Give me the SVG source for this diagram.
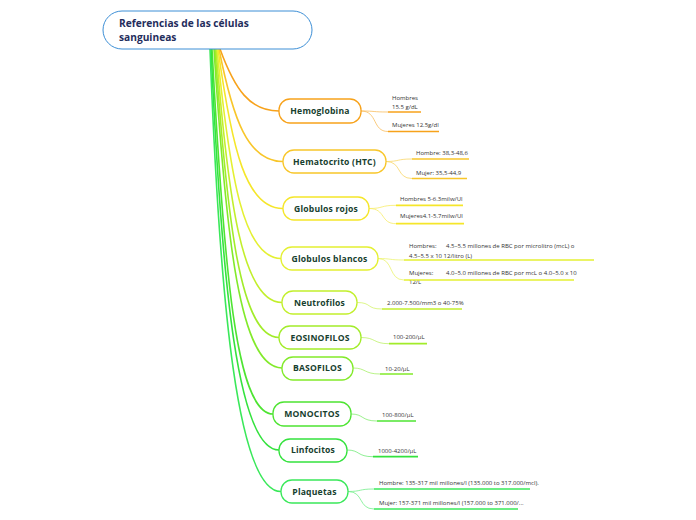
<svg xmlns="http://www.w3.org/2000/svg" width="696" height="520" viewBox="0 0 696 520">
<style>
.root{fill:#fff;stroke:#3d8fd6;stroke-width:1}
.rt{font-family:"Open Sans",sans-serif;font-weight:bold;font-size:10.2px;fill:#1f2d5c}
.nb{fill:#fff;stroke-width:1.3}
.nt{font-family:"Open Sans",sans-serif;font-weight:bold;font-size:8.6px;fill:#17402e;text-anchor:middle;letter-spacing:0.2px}
.st{font-family:"Open Sans",sans-serif;font-size:6px;fill:#333}
.c{fill:none;stroke-width:1.6;stroke-linecap:round}
.s{fill:none;stroke-width:0.8;opacity:0.7}
.u{stroke-width:1.7}
</style>
<g id="connectors">
<path class="c" stroke="#f7a21b" d="M220,49 C235,90 250,111 279,111"/>
<path class="c" stroke="#f8c62a" d="M219,49 C233,120 248,161.5 283,161.5"/>
<path class="c" stroke="#f5e62a" d="M218,49 C232,150 246,208.5 283,208.5"/>
<path class="c" stroke="#e4f032" d="M217,49 C230,180 244,258.5 281,258.5"/>
<path class="c" stroke="#c2ef2c" d="M216,49 C228,200 242,302.5 282,302.5"/>
<path class="c" stroke="#a2ec2a" d="M215,49 C227,220 240,337.5 279,337.5"/>
<path class="c" stroke="#82ea2a" d="M214,49 C226,240 240,368 282,368"/>
<path class="c" stroke="#4ee432" d="M212,49 C224,270 236,414 273,414"/>
<path class="c" stroke="#34e23e" d="M211,49 C222,290 238,450 279,450"/>
<path class="c" stroke="#3ae85a" d="M210,49 C220,310 238,491.5 281,491.5"/>
<g class="s" stroke="#f7a21b">
<path d="M361,111 C376,111 372,112 388,112"/>
<path d="M361,111 C378,111 372,131.5 388,131.5"/>
</g>
<g class="s" stroke="#f8c62a">
<path d="M386,161.5 C400,161.5 396,159 412,159"/>
<path d="M386,161.5 C402,161.5 396,178.5 412,178.5"/>
</g>
<g class="s" stroke="#f5e62a">
<path d="M369,208.5 C384,208.5 380,205.3 396,205.3"/>
<path d="M369,208.5 C386,208.5 380,223.7 396,223.7"/>
</g>
<g class="s" stroke="#e4f032">
<path d="M378,258.5 C392,258.5 388,260 404,260"/>
<path d="M378,258.5 C394,258.5 388,280 404,280"/>
</g>
<path class="s" stroke="#c2ef2c" d="M357,302.5 C372,302.5 366,309 382,309"/>
<path class="s" stroke="#a2ec2a" d="M361,337.5 C376,337.5 373,343.7 389,343.7"/>
<path class="s" stroke="#82ea2a" d="M353,368 C366,368 364,374 380,374"/>
<path class="s" stroke="#4ee432" d="M351,414 C364,414 361,421 377,421"/>
<path class="s" stroke="#34e23e" d="M347,450 C360,450 357,456.7 373,456.7"/>
<g class="s" stroke="#3ae85a">
<path d="M348,491.5 C362,491.5 358,489 374,489"/>
<path d="M348,491.5 C364,491.5 358,509 374,509"/>
</g>
</g>
<g id="root">
<rect class="root" x="103" y="11" width="209" height="38" rx="19"/>
<text class="rt" x="119" y="27">Referencias de las células</text>
<text class="rt" x="119" y="41">sanguineas</text>
</g>
<g id="hemoglobina">
<rect class="nb" stroke="#f7a21b" x="279" y="99" width="82" height="24" rx="11"/>
<text class="nt" x="320" y="114">Hemoglobina</text>
<text class="st" x="392" y="99.5">Hombres</text>
<text class="st" x="392" y="109">15.5 g/dL</text>
<line class="u" stroke="#f7a21b" x1="388" y1="112" x2="421" y2="112"/>
<text class="st" x="392" y="126.5">Mujeres 12.5g/dl</text>
<line class="u" stroke="#f7a21b" x1="388" y1="131.5" x2="439" y2="131.5"/>
</g>
<g id="hematocrito">
<rect class="nb" stroke="#f8c62a" x="283" y="150" width="103" height="23" rx="11"/>
<text class="nt" x="334.5" y="164.5">Hematocrito (HTC)</text>
<text class="st" x="416" y="155">Hombre: 38,3-48,6</text>
<line class="u" stroke="#f8c62a" x1="412" y1="159" x2="469" y2="159"/>
<text class="st" x="416" y="174.5">Mujer: 35,5-44,9</text>
<line class="u" stroke="#f8c62a" x1="412" y1="178.5" x2="467" y2="178.5"/>
</g>
<g id="globulos-rojos">
<rect class="nb" stroke="#f5e62a" x="283" y="197" width="86" height="23" rx="11"/>
<text class="nt" x="326" y="211.5">Globulos rojos</text>
<text class="st" x="400" y="201">Hombres 5-6.3milw/Ul</text>
<line class="u" stroke="#f5e62a" x1="396" y1="205.3" x2="463" y2="205.3"/>
<text class="st" x="400" y="218">Mujeres4.1-5.7milw/Ul</text>
<line class="u" stroke="#f5e62a" x1="396" y1="223.7" x2="464" y2="223.7"/>
</g>
<g id="globulos-blancos">
<rect class="nb" stroke="#e4f032" x="281" y="247" width="97" height="23" rx="11"/>
<text class="nt" x="329.5" y="261.5">Globulos blancos</text>
<text class="st" x="409" y="248">Hombres:</text>
<text class="st" x="446" y="248">4.5–5.5 millones de RBC por microlitro (mcL) o</text>
<text class="st" x="409" y="257.5">4.5–5.5 x 10  12/litro (L)</text>
<line class="u" stroke="#e4f032" x1="404" y1="260" x2="594" y2="260"/>
<text class="st" x="409" y="275">Mujeres:</text>
<text class="st" x="446" y="275">4.0–5.0 millones de RBC por mcL o 4.0–5.0 x 10</text>
<text class="st" x="409" y="284">12/L</text>
<line class="u" stroke="#e4f032" x1="404" y1="280" x2="574" y2="280"/>
</g>
<g id="neutrofilos">
<rect class="nb" stroke="#c2ef2c" x="282" y="291" width="75" height="23" rx="11"/>
<text class="nt" x="319.5" y="305.5">Neutrofilos</text>
<text class="st" x="387" y="304.5">2.000-7.500/mm3 o 40-75%</text>
<line class="u" stroke="#c2ef2c" x1="382" y1="309" x2="462" y2="309"/>
</g>
<g id="eosinofilos">
<rect class="nb" stroke="#a2ec2a" x="279" y="326" width="82" height="23" rx="11"/>
<text class="nt" x="320" y="340.5">EOSINOFILOS</text>
<text class="st" x="393" y="339">100-200/µL</text>
<line class="u" stroke="#a2ec2a" x1="389" y1="343.7" x2="427" y2="343.7"/>
</g>
<g id="basofilos">
<rect class="nb" stroke="#82ea2a" x="282" y="357" width="71" height="23" rx="11"/>
<text class="nt" x="317.5" y="371">BASOFILOS</text>
<text class="st" x="385" y="370.5">10-20/µL</text>
<line class="u" stroke="#82ea2a" x1="380" y1="374" x2="413" y2="374"/>
</g>
<g id="monocitos">
<rect class="nb" stroke="#4ee432" x="273" y="402" width="78" height="24" rx="11"/>
<text class="nt" x="312" y="417">MONOCITOS</text>
<text class="st" x="382" y="417">100-800/µL</text>
<line class="u" stroke="#4ee432" x1="377" y1="421" x2="416" y2="421"/>
</g>
<g id="linfocitos">
<rect class="nb" stroke="#34e23e" x="279" y="439" width="68" height="23" rx="11"/>
<text class="nt" x="313" y="453">Linfocitos</text>
<text class="st" x="378" y="452.5">1000-4200/µL</text>
<line class="u" stroke="#34e23e" x1="373" y1="456.7" x2="418" y2="456.7"/>
</g>
<g id="plaquetas">
<rect class="nb" stroke="#3ae85a" x="281" y="480" width="67" height="23" rx="11"/>
<text class="nt" x="314.5" y="494.5">Plaquetas</text>
<text class="st" x="379" y="485">Hombre: 135-317  mil millones/l (135.000 to 317.000/mcl).</text>
<line class="u" stroke="#3ae85a" x1="374" y1="489" x2="530" y2="489"/>
<text class="st" x="379" y="504.5">Mujer: 157-371 mil millones/l  (157.000 to 371.000/...</text>
<line class="u" stroke="#3ae85a" x1="374" y1="509" x2="518" y2="509"/>
</g>
</svg>
